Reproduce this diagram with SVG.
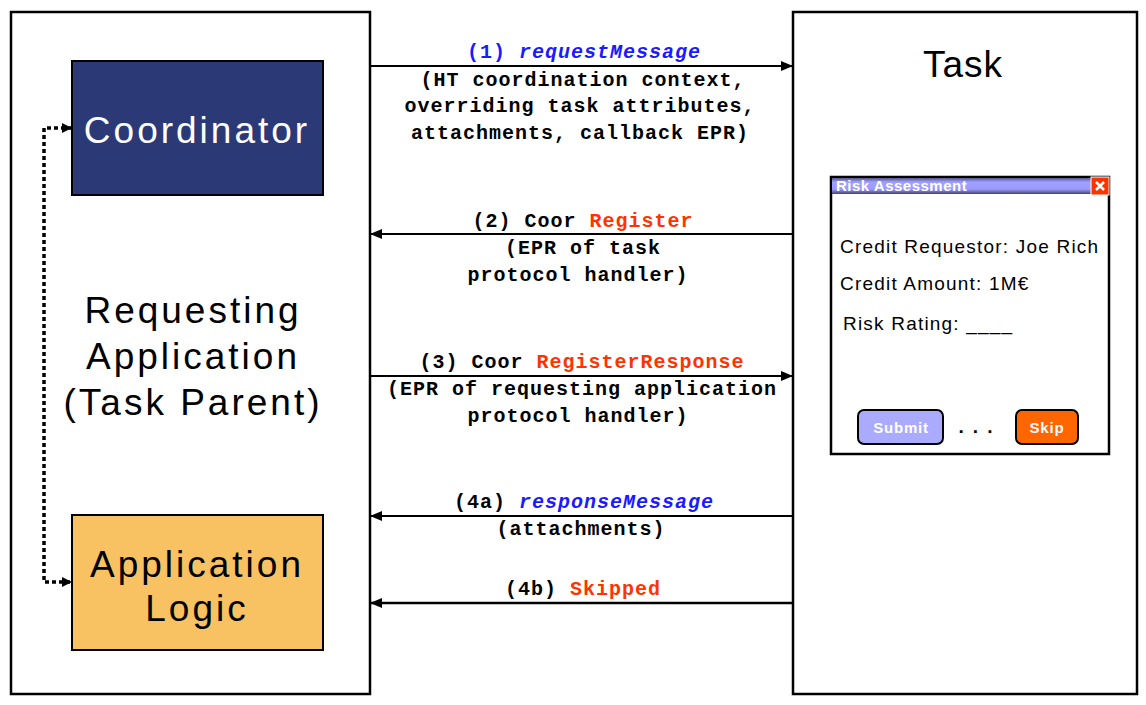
<svg xmlns="http://www.w3.org/2000/svg" width="1146" height="705" viewBox="0 0 1146 705">
<style>
.box{fill:#fff;stroke:#000;stroke-width:2.5}
.big{font-family:"Liberation Sans",Arial,sans-serif;font-size:37px;letter-spacing:3px;text-anchor:middle}
.mono{font-family:"Liberation Mono","Courier New",monospace;font-size:20px;font-weight:bold;letter-spacing:1px;text-anchor:middle;fill:#000}
.blue{fill:#1a1aff}
.red{fill:#ff3300}
.conn{stroke:#000;stroke-width:2;fill:none}
.win{font-family:"Liberation Sans",Arial,sans-serif;font-size:19px;letter-spacing:1.2px;fill:#000}
.btn{font-family:"Liberation Sans",Arial,sans-serif;font-size:15px;font-weight:bold;fill:#fff;text-anchor:middle;letter-spacing:0.8px}
</style>
<defs>
<marker id="ah" markerWidth="12" markerHeight="10" refX="12" refY="5" orient="auto" markerUnits="userSpaceOnUse">
<path d="M0,0 L12,5 L0,10 Z" fill="#000"/>
</marker>
<marker id="ahs" markerWidth="10" markerHeight="10" refX="10" refY="5" orient="auto-start-reverse" markerUnits="userSpaceOnUse">
<path d="M0,0 L10,5 L0,10 Z" fill="#000"/>
</marker>
<linearGradient id="tb" x1="0" y1="0" x2="0" y2="1">
<stop offset="0" stop-color="#55558a"/>
<stop offset="0.25" stop-color="#a0a0ff"/>
<stop offset="0.7" stop-color="#9a9aff"/>
<stop offset="1" stop-color="#44446a"/>
</linearGradient>
</defs>

<g id="requesting-application">
<rect class="box" x="11" y="12" width="359" height="682"/>
<text class="big" x="193" y="323">Requesting</text>
<text class="big" x="193" y="369">Application</text>
<text class="big" x="193" y="415">(Task Parent)</text>
</g>

<g id="coordinator">
<rect x="72" y="61" width="251" height="134" fill="#2b3a77" stroke="#000" stroke-width="2"/>
<text class="big" x="197" y="143" fill="#fff">Coordinator</text>
</g>

<g id="application-logic">
<rect x="72" y="515" width="251" height="135" fill="#f8c263" stroke="#000" stroke-width="2"/>
<text class="big" x="197" y="577">Application</text>
<text class="big" x="197" y="621">Logic</text>
</g>

<g id="task">
<rect class="box" x="793" y="12" width="344" height="682"/>
<text class="big" x="963" y="77" style="letter-spacing:1px">Task</text>
</g>

<g id="risk-assessment-window">
<rect x="831" y="177" width="278" height="277" fill="#fff" stroke="#000" stroke-width="2.5"/>
<rect x="832" y="178" width="259" height="16" fill="url(#tb)"/>
<text x="836" y="191" font-family="Liberation Sans,Arial,sans-serif" font-size="15" font-weight="bold" fill="#fff" letter-spacing="0.5">Risk Assessment</text>
<rect x="1091" y="177" width="18" height="18" fill="#ff3300" stroke="#fff" stroke-width="1"/>
<path d="M1096,182 L1104,190 M1104,182 L1096,190" stroke="#fff" stroke-width="2.5"/>
<text class="win" x="840" y="253">Credit Requestor: Joe Rich</text>
<text class="win" x="840" y="290">Credit Amount: 1M€</text>
<text class="win" x="843" y="330">Risk Rating: ____</text>
<rect x="858" y="410" width="85" height="34" rx="6" fill="#aaaaff" stroke="#000" stroke-width="2"/>
<text class="btn" x="901" y="433">Submit</text>
<text class="win" x="980" y="433" style="text-anchor:middle;font-weight:bold;letter-spacing:9px">...</text>
<rect x="1016" y="410" width="62" height="34" rx="6" fill="#ff6600" stroke="#000" stroke-width="2"/>
<text class="btn" x="1047" y="433">Skip</text>
</g>

<g id="connectors">
<line class="conn" x1="370" y1="66" x2="793" y2="66" marker-end="url(#ah)"/>
<line class="conn" x1="793" y1="234" x2="370" y2="234" marker-end="url(#ah)"/>
<line class="conn" x1="370" y1="376" x2="793" y2="376" marker-end="url(#ah)"/>
<line class="conn" x1="793" y1="516" x2="370" y2="516" marker-end="url(#ah)"/>
<line class="conn" x1="793" y1="603" x2="370" y2="603" marker-end="url(#ah)" style="stroke-width:2.5px"/>
<path d="M72,128 L44,128 L44,582 L72,582" fill="none" stroke="#000" stroke-width="3.5" stroke-dasharray="4,3" marker-start="url(#ahs)" marker-end="url(#ahs)"/>
</g>

<g id="labels">
<text class="mono blue" x="584" y="58">(1) <tspan font-style="italic">requestMessage</tspan></text>
<text class="mono" x="583" y="86">(HT coordination context,</text>
<text class="mono" x="580" y="112">overriding task attributes,</text>
<text class="mono" x="580" y="139">attachments, callback EPR)</text>
<text class="mono" x="583" y="227">(2) Coor <tspan class="red">Register</tspan></text>
<text class="mono" x="583" y="254">(EPR of task</text>
<text class="mono" x="578" y="281">protocol handler)</text>
<text class="mono" x="582" y="368">(3) Coor <tspan class="red">RegisterResponse</tspan></text>
<text class="mono" x="582" y="395">(EPR of requesting application</text>
<text class="mono" x="578" y="422">protocol handler)</text>
<text class="mono" x="584" y="508">(4a) <tspan class="blue" font-style="italic">responseMessage</tspan></text>
<text class="mono" x="581" y="535">(attachments)</text>
<text class="mono" x="583" y="595">(4b) <tspan class="red">Skipped</tspan></text>
</g>
</svg>
